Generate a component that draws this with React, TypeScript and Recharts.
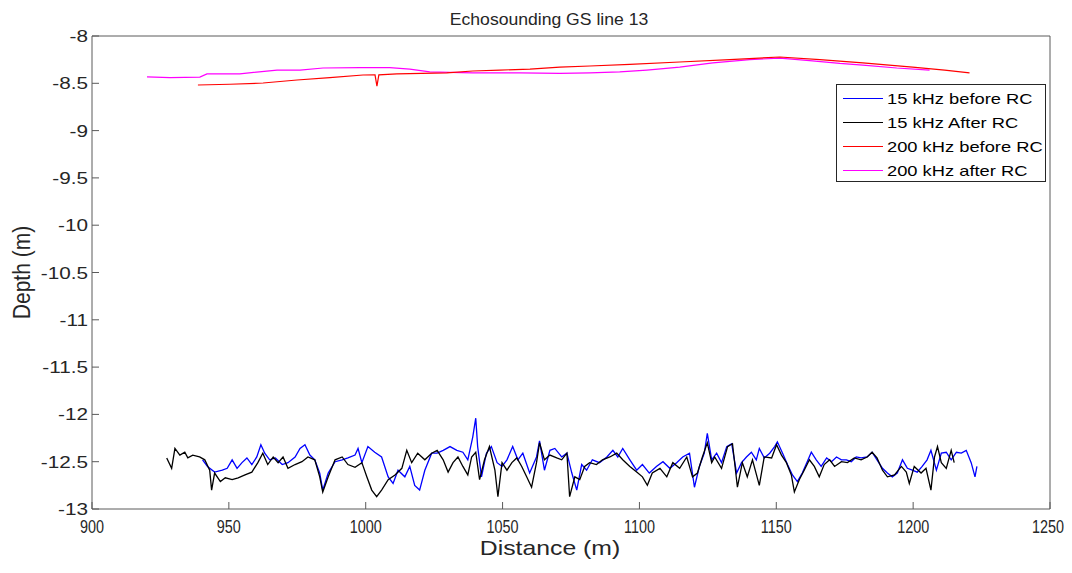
import React from "react"
import { Legend, Line, LineChart, XAxis, YAxis } from "recharts"

// distance (m) / depth (m)
const blueDist = [
  940.4, 942.2, 944.8, 947.6, 949.4, 951.2, 953.0, 954.8, 956.6, 958.4, 960.2, 961.7, 963.1, 964.9, 967.0,
  969.5, 971.6, 974.2, 976.0, 977.8, 979.6, 981.4, 983.2, 984.3, 986.3, 988.8, 991.4, 993.5, 996.1, 997.2,
  998.6, 1000.8, 1003.3, 1005.8, 1008.2, 1010.0, 1011.8, 1014.3, 1016.1, 1017.9, 1019.7, 1021.6, 1024.1, 1026.1,
  1028.3, 1030.8, 1033.3, 1035.5, 1037.3, 1039.1, 1040.2, 1040.9, 1042.3, 1044.1, 1045.9, 1048.0, 1049.8,
  1051.6, 1053.7, 1055.6, 1057.4, 1059.9, 1062.4, 1063.5, 1065.3, 1067.3, 1069.1, 1071.6, 1073.5, 1075.3,
  1077.1, 1078.9, 1080.7, 1082.8, 1085.4, 1088.1, 1090.3, 1092.1, 1093.9, 1096.5, 1099.0, 1101.1, 1103.6,
  1106.2, 1108.6, 1111.1, 1113.6, 1115.8, 1118.3, 1120.1, 1121.9, 1123.7, 1124.8, 1126.4, 1128.2, 1130.0,
  1131.9, 1133.7, 1135.5, 1137.3, 1139.1, 1140.9, 1142.7, 1143.8, 1145.6, 1147.6, 1149.4, 1150.4, 1152.3,
  1154.1, 1155.9, 1157.7, 1159.5, 1161.3, 1162.8, 1164.6, 1166.4, 1168.4, 1170.2, 1172.0, 1173.8, 1175.6,
  1177.4, 1179.2, 1181.0, 1183.2, 1185.0, 1186.8, 1188.8, 1190.6, 1192.4, 1194.2, 1196.1, 1197.9, 1199.7,
  1201.5, 1203.3, 1205.1, 1206.5, 1208.5, 1210.3, 1212.1, 1213.9, 1215.8, 1217.6, 1219.4, 1221.2, 1222.6, 1223.3,
]
const blueDepth = [
  -12.48, -12.55, -12.61, -12.59, -12.57, -12.48, -12.57, -12.51, -12.46, -12.53, -12.45, -12.32, -12.41, -12.48, -12.46,
  -12.53, -12.51, -12.45, -12.36, -12.32, -12.43, -12.48, -12.62, -12.8, -12.62, -12.5, -12.48, -12.46, -12.43, -12.36,
  -12.51, -12.34, -12.4, -12.45, -12.66, -12.73, -12.59, -12.66, -12.55, -12.75, -12.8, -12.59, -12.41, -12.41,
  -12.38, -12.34, -12.38, -12.4, -12.48, -12.24, -12.04, -12.34, -12.66, -12.41, -12.34, -12.51, -12.55,
  -12.48, -12.34, -12.48, -12.41, -12.62, -12.45, -12.28, -12.59, -12.38, -12.36, -12.45, -12.41, -12.62,
  -12.8, -12.53, -12.59, -12.48, -12.51, -12.45, -12.38, -12.45, -12.36, -12.48, -12.59, -12.53, -12.62,
  -12.55, -12.5, -12.57, -12.51, -12.45, -12.41, -12.77, -12.55, -12.41, -12.2, -12.48, -12.41, -12.51,
  -12.34, -12.31, -12.62, -12.51, -12.45, -12.4, -12.48, -12.36, -12.46, -12.41, -12.34, -12.29, -12.41,
  -12.53, -12.64, -12.71, -12.62, -12.5, -12.4, -12.48, -12.55, -12.46, -12.5, -12.45, -12.48, -12.48,
  -12.5, -12.45, -12.46, -12.45, -12.4, -12.48, -12.57, -12.62, -12.66, -12.62, -12.48, -12.57, -12.59,
  -12.61, -12.55, -12.48, -12.38, -12.59, -12.41, -12.4, -12.48, -12.4, -12.41, -12.38, -12.51, -12.66, -12.55,
]

const blackDist = [
  927.3, 929.1, 930.3, 932.1, 933.9, 935.0, 936.8, 939.3, 941.2, 943.0, 943.7, 944.8, 946.9, 948.7, 951.2,
  953.4, 955.9, 958.4, 960.6, 962.4, 964.2, 966.2, 968.0, 969.8, 971.6, 974.2, 976.7, 978.9, 981.4, 983.2,
  984.3, 986.3, 988.8, 991.4, 993.5, 996.1, 998.6, 1000.4, 1002.2, 1004.0, 1005.8, 1008.2, 1010.7, 1013.2,
  1015.0, 1016.8, 1019.0, 1021.6, 1024.1, 1026.1, 1028.3, 1030.1, 1031.9, 1033.7, 1035.5, 1037.3, 1038.7,
  1040.2, 1041.6, 1043.4, 1045.2, 1047.2, 1048.3, 1049.8, 1051.6, 1053.4, 1055.2, 1057.0, 1058.8, 1060.6,
  1062.4, 1063.5, 1065.3, 1067.3, 1069.8, 1071.6, 1073.5, 1074.5, 1076.4, 1078.2, 1080.0, 1081.8, 1084.3,
  1086.5, 1089.2, 1091.7, 1093.9, 1096.5, 1099.0, 1101.1, 1102.9, 1104.7, 1107.5, 1110.0, 1112.2, 1114.7,
  1117.3, 1119.4, 1121.2, 1123.0, 1124.8, 1126.4, 1127.5, 1130.0, 1132.2, 1134.0, 1135.8, 1137.6, 1139.4,
  1141.3, 1143.8, 1145.6, 1148.3, 1150.1, 1151.9, 1153.7, 1155.5, 1156.6, 1158.4, 1160.2, 1162.1, 1163.9,
  1165.7, 1167.5, 1169.5, 1171.3, 1173.8, 1176.0, 1178.5, 1181.0, 1183.2, 1185.0, 1186.8, 1188.8, 1190.6,
  1193.2, 1195.7, 1197.5, 1198.6, 1200.4, 1202.9, 1204.7, 1206.5, 1207.8, 1208.9, 1210.3, 1212.1, 1213.9, 1215.0,
]
const blackDepth = [
  -12.46, -12.57, -12.36, -12.43, -12.4, -12.46, -12.43, -12.45, -12.48, -12.59, -12.8, -12.62, -12.71, -12.67, -12.69,
  -12.67, -12.64, -12.61, -12.51, -12.41, -12.53, -12.45, -12.51, -12.45, -12.57, -12.53, -12.5, -12.45, -12.48, -12.66,
  -12.82, -12.66, -12.48, -12.45, -12.53, -12.56, -12.51, -12.66, -12.8, -12.87, -12.8, -12.69, -12.64, -12.57,
  -12.38, -12.51, -12.41, -12.48, -12.41, -12.38, -12.48, -12.61, -12.51, -12.45, -12.55, -12.64, -12.45,
  -12.4, -12.69, -12.48, -12.34, -12.59, -12.87, -12.51, -12.59, -12.51, -12.46, -12.55, -12.66, -12.77,
  -12.51, -12.3, -12.48, -12.43, -12.46, -12.48, -12.41, -12.87, -12.66, -12.69, -12.55, -12.51, -12.53,
  -12.48, -12.45, -12.41, -12.48, -12.55, -12.61, -12.66, -12.75, -12.62, -12.57, -12.66, -12.51, -12.57,
  -12.45, -12.66, -12.62, -12.45, -12.3, -12.51, -12.45, -12.57, -12.34, -12.31, -12.77, -12.51, -12.66,
  -12.48, -12.75, -12.45, -12.46, -12.32, -12.43, -12.51, -12.64, -12.82, -12.69, -12.59, -12.48, -12.55,
  -12.66, -12.53, -12.48, -12.55, -12.5, -12.51, -12.46, -12.48, -12.45, -12.4, -12.46, -12.59, -12.66,
  -12.64, -12.55, -12.61, -12.73, -12.55, -12.62, -12.57, -12.8, -12.45, -12.34, -12.51, -12.57, -12.38, -12.51,
]

const redDist = [
  938.7, 950.4, 962.5, 974.9, 986.9, 999.0, 1003.4, 1004.1, 1004.8, 1011.4, 1029.6, 1039.1, 1049.0, 1060.0,
  1070.9, 1081.9, 1096.5, 1114.7, 1133.0, 1151.3, 1165.9, 1181.6, 1199.8, 1211.5, 1220.6,
]
const redDepth = [
  -8.518, -8.51, -8.497, -8.465, -8.44, -8.412, -8.41, -8.53, -8.41, -8.4, -8.39, -8.37, -8.36, -8.35,
  -8.33, -8.317, -8.3, -8.275, -8.25, -8.222, -8.25, -8.285, -8.328, -8.36, -8.39,
]

const magentaDist = [
  920.1, 928.5, 939.4, 942.0, 954.0, 967.6, 976.0, 984.4, 997.9, 1008.8, 1016.1, 1023.4, 1030.7, 1039.1,
  1056.3, 1070.9, 1081.9, 1092.8, 1102.7, 1114.7, 1126.8, 1140.3, 1151.3, 1162.2, 1173.2, 1181.6, 1194.0, 1206.0,
]
const magentaDepth = [
  -8.433, -8.44, -8.435, -8.4, -8.4, -8.36, -8.36, -8.338, -8.335, -8.335, -8.35, -8.38, -8.385, -8.39,
  -8.39, -8.395, -8.39, -8.38, -8.36, -8.33, -8.285, -8.25, -8.233, -8.26, -8.29, -8.307, -8.338, -8.36,
]

const xTicks = [900, 950, 1000, 1050, 1100, 1150, 1200, 1250]
const yTicks = [-13, -12.5, -12, -11.5, -11, -10.5, -10, -9.5, -9, -8.5, -8]

const legendItems = [
  { name: "15 kHz before RC", color: "#0000ff" },
  { name: "15 kHz After RC", color: "#000000" },
  { name: "200 kHz before RC", color: "#ff0000" },
  { name: "200 kHz after RC", color: "#ff00ff" },
]

const toPoints = (xs: number[], ys: number[]) => xs.map((x, i) => ({ x, y: ys[i] }))

const blueData = toPoints(blueDist, blueDepth)
const blackData = toPoints(blackDist, blackDepth)
const redData = toPoints(redDist, redDepth)
const magentaData = toPoints(magentaDist, magentaDepth)

const FONT = "'Liberation Sans', Arial, Helvetica, sans-serif"
const AXIS_COLOR = "#5a5a5a"
const TEXT_COLOR = "#262626"
// the source figure's text is stretched unevenly, widen / narrow to match
const STRETCH = 1.22

const XTick = ({ x, y, payload }: any) => (
  <g transform={`translate(${x},${y}) scale(0.8,1)`}>
    <text textAnchor="middle" dy="0.71em" fontFamily={FONT} fontSize={18} fill={TEXT_COLOR}>
      {payload.value}
    </text>
  </g>
)

const YTick = ({ x, y, payload }: any) => (
  <g transform={`translate(${x},${y}) scale(${STRETCH},1)`}>
    <text textAnchor="end" dy="0.355em" fontFamily={FONT} fontSize={17} fill={TEXT_COLOR}>
      {payload.value}
    </text>
  </g>
)

const YLabel = ({ viewBox }: any) => {
  const x = viewBox.x + 13
  const y = viewBox.y + viewBox.height / 2
  return (
    <g transform={`translate(${x},${y}) rotate(-90) scale(1,1.15)`}>
      <text textAnchor="middle" dy="0.355em" fontFamily={FONT} fontSize={21} fill={TEXT_COLOR}>
        Depth (m)
      </text>
    </g>
  )
}

// title and x label sit a bit left of the plot centre in the source
const XLabel = ({ viewBox }: any) => (
  <g transform={`translate(${viewBox.x + viewBox.width / 2 - 21},${viewBox.y + viewBox.height - 10}) scale(1.24,1)`}>
    <text textAnchor="middle" fontFamily={FONT} fontSize={20} fill={TEXT_COLOR}>
      Distance (m)
    </text>
  </g>
)

const Title = ({ viewBox }: any) => (
  <g transform={`translate(${viewBox.x + viewBox.width / 2 - 22},17) scale(1.1,1)`}>
    <text textAnchor="middle" fontFamily={FONT} fontSize={16} fill={TEXT_COLOR}>
      Echosounding GS line 13
    </text>
  </g>
)

const LegendBox = () => (
  <div
    style={{
      width: 210,
      height: 98,
      boxSizing: "border-box",
      border: "1px solid #262626",
      background: "#fff",
      paddingTop: 1,
      fontFamily: FONT,
      fontSize: 15,
      color: "#000",
    }}
  >
    {legendItems.map((item) => (
      <div key={item.name} style={{ display: "flex", alignItems: "center", height: 24.2 }}>
        <span
          style={{
            display: "inline-block",
            width: 40,
            marginLeft: 6,
            marginRight: 4,
            borderTop: `1px solid ${item.color}`,
          }}
        />
        <span style={{ display: "inline-block", transform: `scaleX(${STRETCH})`, transformOrigin: "left center", whiteSpace: "nowrap" }}>
          {item.name}
        </span>
      </div>
    ))}
  </div>
)

export default function App() {
  return (
    <div style={{ width: 1056, height: 557, background: "#fff", position: "relative" }}>
      <style>{`.recharts-surface { overflow: visible; } .recharts-wrapper { overflow: visible; }`}</style>
      <LineChart width={1056} height={557} margin={{ top: 27, right: 13, bottom: 0, left: 0 }}>
        <XAxis
          xAxisId="bottom"
          type="number"
          dataKey="x"
          domain={[900, 1250]}
          ticks={xTicks}
          height={56}
          stroke={AXIS_COLOR}
          tickSize={-7}
          tickMargin={18}
          tick={<XTick />}
          label={<XLabel />}
        />
        <XAxis
          xAxisId="top"
          orientation="top"
          type="number"
          dataKey="x"
          domain={[900, 1250]}
          ticks={xTicks}
          height={1}
          stroke={AXIS_COLOR}
          tickSize={-7}
          tick={() => <g />}
          label={<Title />}
        />
        <YAxis
          yAxisId="left"
          type="number"
          domain={[-13, -8]}
          ticks={yTicks}
          width={84}
          stroke={AXIS_COLOR}
          tickSize={-7}
          tickMargin={11}
          tick={<YTick />}
          label={<YLabel />}
        />
        <YAxis
          yAxisId="right"
          orientation="right"
          type="number"
          domain={[-13, -8]}
          ticks={yTicks}
          width={1}
          stroke={AXIS_COLOR}
          tickSize={-7}
          tick={() => <g />}
        />
        <Legend
          verticalAlign="middle"
          align="center"
          layout="horizontal"
          wrapperStyle={{ top: 76, left: 828, width: 210 }}
          content={() => <LegendBox />}
        />
        <Line
          xAxisId="bottom"
          yAxisId="left"
          data={blueData}
          dataKey="y"
          name="15 kHz before RC"
          stroke="#0000ff"
          strokeWidth={1.3}
          dot={false}
          activeDot={false}
          isAnimationActive={false}
        />
        <Line
          xAxisId="bottom"
          yAxisId="left"
          data={blackData}
          dataKey="y"
          name="15 kHz After RC"
          stroke="#000000"
          strokeWidth={1.3}
          dot={false}
          activeDot={false}
          isAnimationActive={false}
        />
        <Line
          xAxisId="bottom"
          yAxisId="left"
          data={magentaData}
          dataKey="y"
          name="200 kHz after RC"
          stroke="#ff00ff"
          strokeWidth={1.2}
          dot={false}
          activeDot={false}
          isAnimationActive={false}
        />
        <Line
          xAxisId="bottom"
          yAxisId="left"
          data={redData}
          dataKey="y"
          name="200 kHz before RC"
          stroke="#ff0000"
          strokeWidth={1.2}
          dot={false}
          activeDot={false}
          isAnimationActive={false}
        />
      </LineChart>
    </div>
  )
}
